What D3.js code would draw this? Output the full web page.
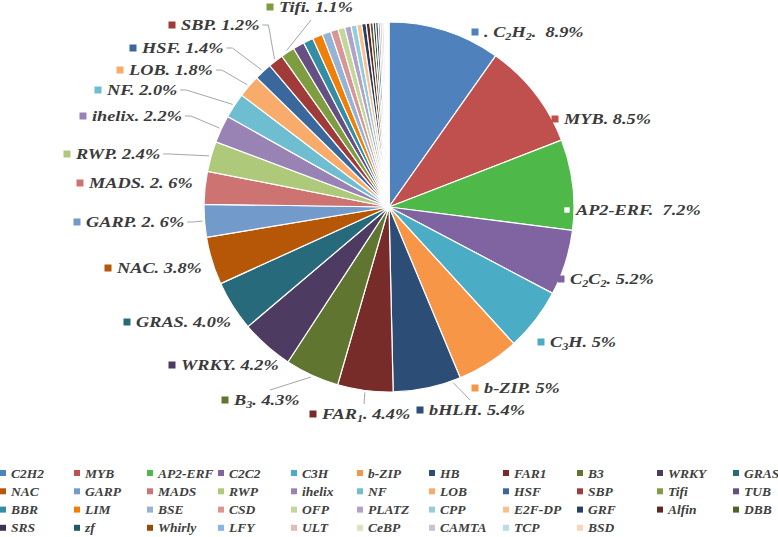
<!DOCTYPE html>
<html>
<head>
<meta charset="utf-8">
<script src="https://cdn.jsdelivr.net/npm/d3@7"></script>
<style>
  html, body { margin: 0; padding: 0; background: #fff; }
</style>
</head>
<body>
<svg id="chart" width="778" height="537"></svg>
<script>
// gene families, in pie order (clockwise from 12 o'clock)
const families = ["C2H2","MYB","AP2-ERF","C2C2","C3H","b-ZIP","HB","FAR1","B3","WRKY","GRAS",
  "NAC","GARP","MADS","RWP","ihelix","NF","LOB","HSF","SBP","Tifi","TUB",
  "BBR","LIM","BSE","CSD","OFP","PLATZ","CPP","E2F-DP","GRF","Alfin","DBB",
  "SRS","zf","Whirly","LFY","ULT","CeBP","CAMTA","TCP","BSD"];

// share of each family (%)
const shares = [8.9,8.5,7.2,5.2,5.0,5.0,5.4,4.4,4.3,4.2,4.0,
  3.8,2.6,2.6,2.4,2.2,2.0,1.8,1.4,1.2,1.1,0.9,
  0.8,0.8,0.7,0.6,0.55,0.5,0.45,0.4,0.35,0.3,0.25,
  0.2,0.2,0.15,0.15,0.15,0.1,0.1,0.1,0.1];

const colors = ["#4F81BD","#C0504D","#4EB848","#8064A2","#4BACC6","#F79646","#2C4D75","#772C2A","#5F7530","#4D3B62","#276A7C",
  "#B65708","#729ACA","#CD7371","#AFC97A","#9983B5","#6FBDD1","#F9AB6B","#3A679C","#9F3B38","#7E9C40","#664F83",
  "#358DA5","#F07F09","#95B3D7","#D99694","#C3D69B","#B3A2C7","#93CDDD","#FAC090","#254061","#632523","#4F6228",
  "#3F3151","#215968","#984807","#8DB3E2","#E6B9B8","#D7E4BC","#CCC1D9","#B7DDE8","#FBD5B5"];

// data labels on the pie ("_n" = subscript digit)
const pieLabels = [". C_2H_2.  8.9%","MYB. 8.5%","AP2-ERF.  7.2%","C_2C_2. 5.2%","C_3H. 5%","b-ZIP. 5%",
  "bHLH. 5.4%","FAR_1. 4.4%","B_3. 4.3%","WRKY. 4.2%","GRAS. 4.0%","NAC. 3.8%","GARP. 2. 6%",
  "MADS. 2. 6%","RWP. 2.4%","ihelix. 2.2%","NF. 2.0%","LOB. 1.8%","HSF. 1.4%","SBP. 1.2%","Tifi. 1.1%"];

// where each data label key sits (as dragged in the original)
const labelSpots = [[475,32],[555,119],[567,210],[561,279],[541,342],[475,388],
  [420,410],[313,414],[225,400],[172,365],[127,322],[108,268],[77,222],
  [80,183],[67,154],[83,116],[98,90],[120,70],[133,48],[172,25],[270,7]];

// leader lines: which label, and where the line leaves it
const leaders = [
  {i:19, from:"end"}, {i:18, from:"end"}, {i:17, from:"end"}, {i:16, from:"end"},
  {i:15, from:"end"}, {i:14, from:"end"}, {i:12, from:"end"},
  {i:20, from:"bottom", dx:32},
  {i:8, from:"top", dx:36},
  {i:7, from:"top", dx:42},
  {i:6, from:"top", dx:41, frac:0.12}
];

const FONT = "'Liberation Serif', 'Times New Roman', serif";
const cx = 389, cy = 207, R = 185;
const stretch = 1.22;

const svg = d3.select("#chart");

const pie = d3.pie().sort(null).value(function(d){ return d; });
const arcs = pie(shares);
const arc = d3.arc().innerRadius(0).outerRadius(R);

const g = svg.append("g").attr("transform", "translate(" + cx + "," + cy + ")");

g.selectAll("path")
  .data(arcs)
  .enter()
  .append("path")
  .attr("d", arc)
  .attr("fill", function(d, i){ return colors[i]; })
  .attr("stroke", "#fff")
  .attr("stroke-width", 1.2);

// point on the rim of slice i
function rimPoint(i, frac, rad) {
  const a = arcs[i].startAngle + (arcs[i].endAngle - arcs[i].startAngle) * frac;
  const c = d3.arc().innerRadius(rad).outerRadius(rad).centroid({startAngle:a, endAngle:a});
  return [cx + c[0], cy + c[1]];
}

function styleText(t) {
  return t.style("font-family", FONT).style("font-weight", "bold").style("font-style", "italic");
}

function fillText(sel, str, big, small) {
  const parts = str.split(/_(\d)/);
  let shifted = false;
  parts.forEach(function(p, k){
    if (p === "") return;
    const sub = k % 2 === 1;
    const t = sel.append("tspan").text(p).attr("font-size", sub ? small : big);
    if (sub && !shifted) { t.attr("dy", 3); shifted = true; }
    else if (!sub && shifted) { t.attr("dy", -3); shifted = false; }
  });
}

// data labels
const labelBoxes = [];
const lab = svg.append("g");
pieLabels.forEach(function(str, i){
  const p = labelSpots[i];
  const lg = lab.append("g").attr("transform", "translate(" + p[0] + "," + p[1] + ")");
  const inside = Math.hypot(p[0] - cx, p[1] - cy) < R + 1;
  lg.append("rect")
    .attr("x", -3.5).attr("y", -3.5).attr("width", 7).attr("height", 7)
    .attr("fill", inside ? "#fff" : colors[i])
    .attr("stroke", inside ? colors[i] : "none")
    .attr("stroke-width", 1.6);
  const tg = lg.append("g").attr("transform", "translate(9,0) scale(" + stretch + ",1)");
  const t = styleText(tg.append("text")).attr("y", 5).attr("fill", "#3b3b3b").style("white-space", "pre");
  fillText(t, str, 15, 10);
  const w = t.node().getComputedTextLength() * stretch;
  labelBoxes.push({x0: p[0] + 9, x1: p[0] + 9 + w, y: p[1]});
});

// leader lines
const lines = svg.insert("g", ":first-child");
leaders.forEach(function(L){
  const b = labelBoxes[L.i];
  const target = rimPoint(L.i, L.frac == null ? 0.5 : L.frac, R + 2);
  let pts;
  if (L.from === "end") {
    pts = [[b.x1 + 3, b.y], [b.x1 + 9, b.y], target];
  } else if (L.from === "top") {
    pts = [[b.x0 + L.dx, b.y - 10], target];
  } else {
    pts = [[b.x0 + L.dx, b.y + 13], target];
  }
  lines.append("path")
    .attr("d", d3.line()(pts))
    .attr("fill", "none")
    .attr("stroke", "#a6a6a6")
    .attr("stroke-width", 1);
});

// legend
const legendCols = [3, 77, 150, 221, 294, 360, 432, 506, 580, 660, 736];
const legendRows = [473, 491.3, 509.6, 527.8];
const legend = svg.append("g");
families.forEach(function(name, i){
  const x = legendCols[i % 11], y = legendRows[Math.floor(i / 11)];
  legend.append("rect")
    .attr("x", x - 3).attr("y", y - 3).attr("width", 6).attr("height", 6)
    .attr("fill", colors[i]);
  styleText(legend.append("text"))
    .attr("x", x + 8).attr("y", y + 4.5)
    .attr("font-size", 13.5)
    .attr("fill", "#404040")
    .text(name);
});
</script>
</body>
</html>
